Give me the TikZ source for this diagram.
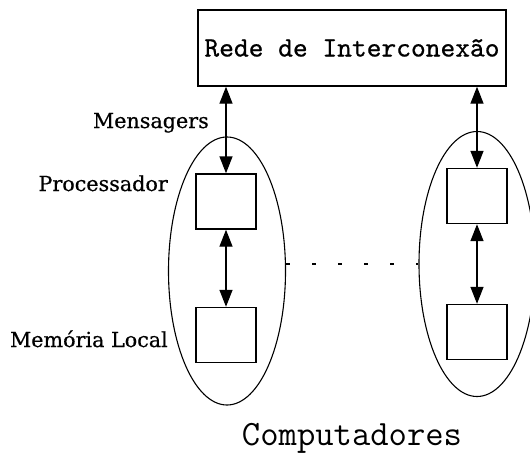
\documentclass[tikz,border=0pt]{standalone}
\usepackage{fontspec}
\newfontfamily\labelfont{DejaVu Serif}[FakeBold=0.6]
\newfontfamily\netfont{lmmono10-regular.otf}[FakeBold=0.6]
\usetikzlibrary{arrows.meta,shapes.geometric}

\tikzset{
  unitbox/.style={draw, line width=1.4pt, minimum width=60pt, minimum height=55pt, inner sep=0pt},
  netbox/.style={draw, line width=1.4pt, minimum width=308pt, minimum height=76pt, inner sep=0pt,
    font=\fontsize{28.1}{30}\selectfont\netfont, text height=17pt, text depth=0pt},
  computer/.style={draw, ellipse, line width=1.1pt, inner sep=0pt},
  link/.style={line width=1.4pt, {Triangle[width=13pt,length=17pt]}-{Triangle[width=13pt,length=17pt]}},
  sidelabel/.style={anchor=base east, inner sep=0pt, font=\fontsize{20.7}{23}\selectfont\labelfont},
  dotline/.style={line width=1.1pt, dash pattern=on 4pt off 22pt},
}

\begin{document}
\begin{tikzpicture}[x=1pt, y=-1pt]
  \useasboundingbox (0,0) rectangle (530,453);
  \clip (0,0) rectangle (530,453);

  % interconnection network
  \node[netbox] (net) at (352,48) {Rede de Interconexão};

  % two computers, each a processor above its local memory
  \node[computer, minimum width=117pt, minimum height=268pt] (lc) at (227,271) {};
  \node[computer, minimum width=116pt, minimum height=265pt] (rc) at (477,264) {};

  \node[unitbox] (lp) at (226,201.5) {};
  \node[unitbox] (lm) at (226,335) {};
  \node[unitbox] (rp) at (477,196) {};
  \node[unitbox] (rm) at (477,332) {};

  % message paths and processor-memory links
  \draw[link] (lp.north |- net.south) -- (lp.north);
  \draw[link] (rp.north |- net.south) -- (rp.north);
  \draw[link] (lp.south) -- (lm.north);
  \draw[link] (rp.south) -- (rm.north);

  % more computers in between
  \draw[dotline] (lc.east |- rc.west) -- (rc.west);

  % labels
  \node[sidelabel] (lmsg) at (209,128) {Mensagers};
  \node[sidelabel] (lproc) at (168,191) {Processador};
  \node[sidelabel] (lmem) at (168,347) {Memória Local};
  \node[anchor=base, inner sep=0pt, font=\fontsize{35.6}{38}\selectfont\ttfamily] (lcomp) at (352,445) {Computadores};
\end{tikzpicture}
\end{document}
